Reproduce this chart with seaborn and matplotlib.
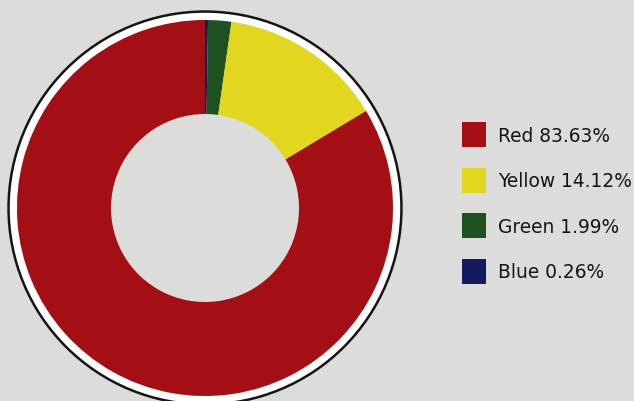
import matplotlib
matplotlib.use("Agg")
import matplotlib.pyplot as plt
from matplotlib.patches import Wedge, Circle, Patch
import seaborn as sns

# Data
categories = ["Blue", "Green", "Yellow", "Red"]
values = [0.26, 1.99, 14.12, 83.63]
colors_hex = ["#15195e", "#1d5220", "#e3d61f", "#a40f16"]
legend_order = ["Red", "Yellow", "Green", "Blue"]

sns.set_theme(style="white")
plt.rcParams['font.family'] = ['DejaVu Sans']
palette = sns.color_palette(colors_hex)

bg = "#dcdcda"
fig = plt.figure(figsize=(6.34, 4.02), dpi=100, facecolor=bg)
ax = fig.add_axes([0, 0, 1, 1])
ax.set_facecolor(bg)

R = 188.0
cx, cy = 205.0, 402 - 209.0

wedges, _ = ax.pie(values, colors=palette, startangle=90, counterclock=False,
                   radius=1.0, wedgeprops=dict(width=0.5, linewidth=0),
                   frame=True)
ax.set_xlim(-cx / R, (634 - cx) / R)
ax.set_ylim(-cy / R, (402 - cy) / R)
ax.set_aspect("auto")
ax.axis("off")

# white ring and dark outline
ax.add_patch(Wedge((0, 0), 1.04, 0, 360, width=0.04, facecolor="white",
                   edgecolor="none", zorder=0.5))
ax.add_patch(Circle((0, 0), 1.045, fill=False, edgecolor="#151515",
                    linewidth=1.8, zorder=3))

handles = []
labels = []
for name in legend_order:
    i = categories.index(name)
    handles.append(Patch(facecolor=palette[i], edgecolor="none"))
    labels.append(f"{name} {values[i]:.2f}%")

leg = fig.legend(handles, labels, loc="upper left",
                 bbox_to_anchor=(462 / 634, 1 - 123 / 402),
                 frameon=False, fontsize=13.4, handlelength=1.3,
                 handleheight=1.7, handletextpad=0.65, labelspacing=1.1,
                 borderaxespad=0, borderpad=0)
for t in leg.get_texts():
    t.set_color("#151515")

fig.savefig("out.png", dpi=100, facecolor=bg)
